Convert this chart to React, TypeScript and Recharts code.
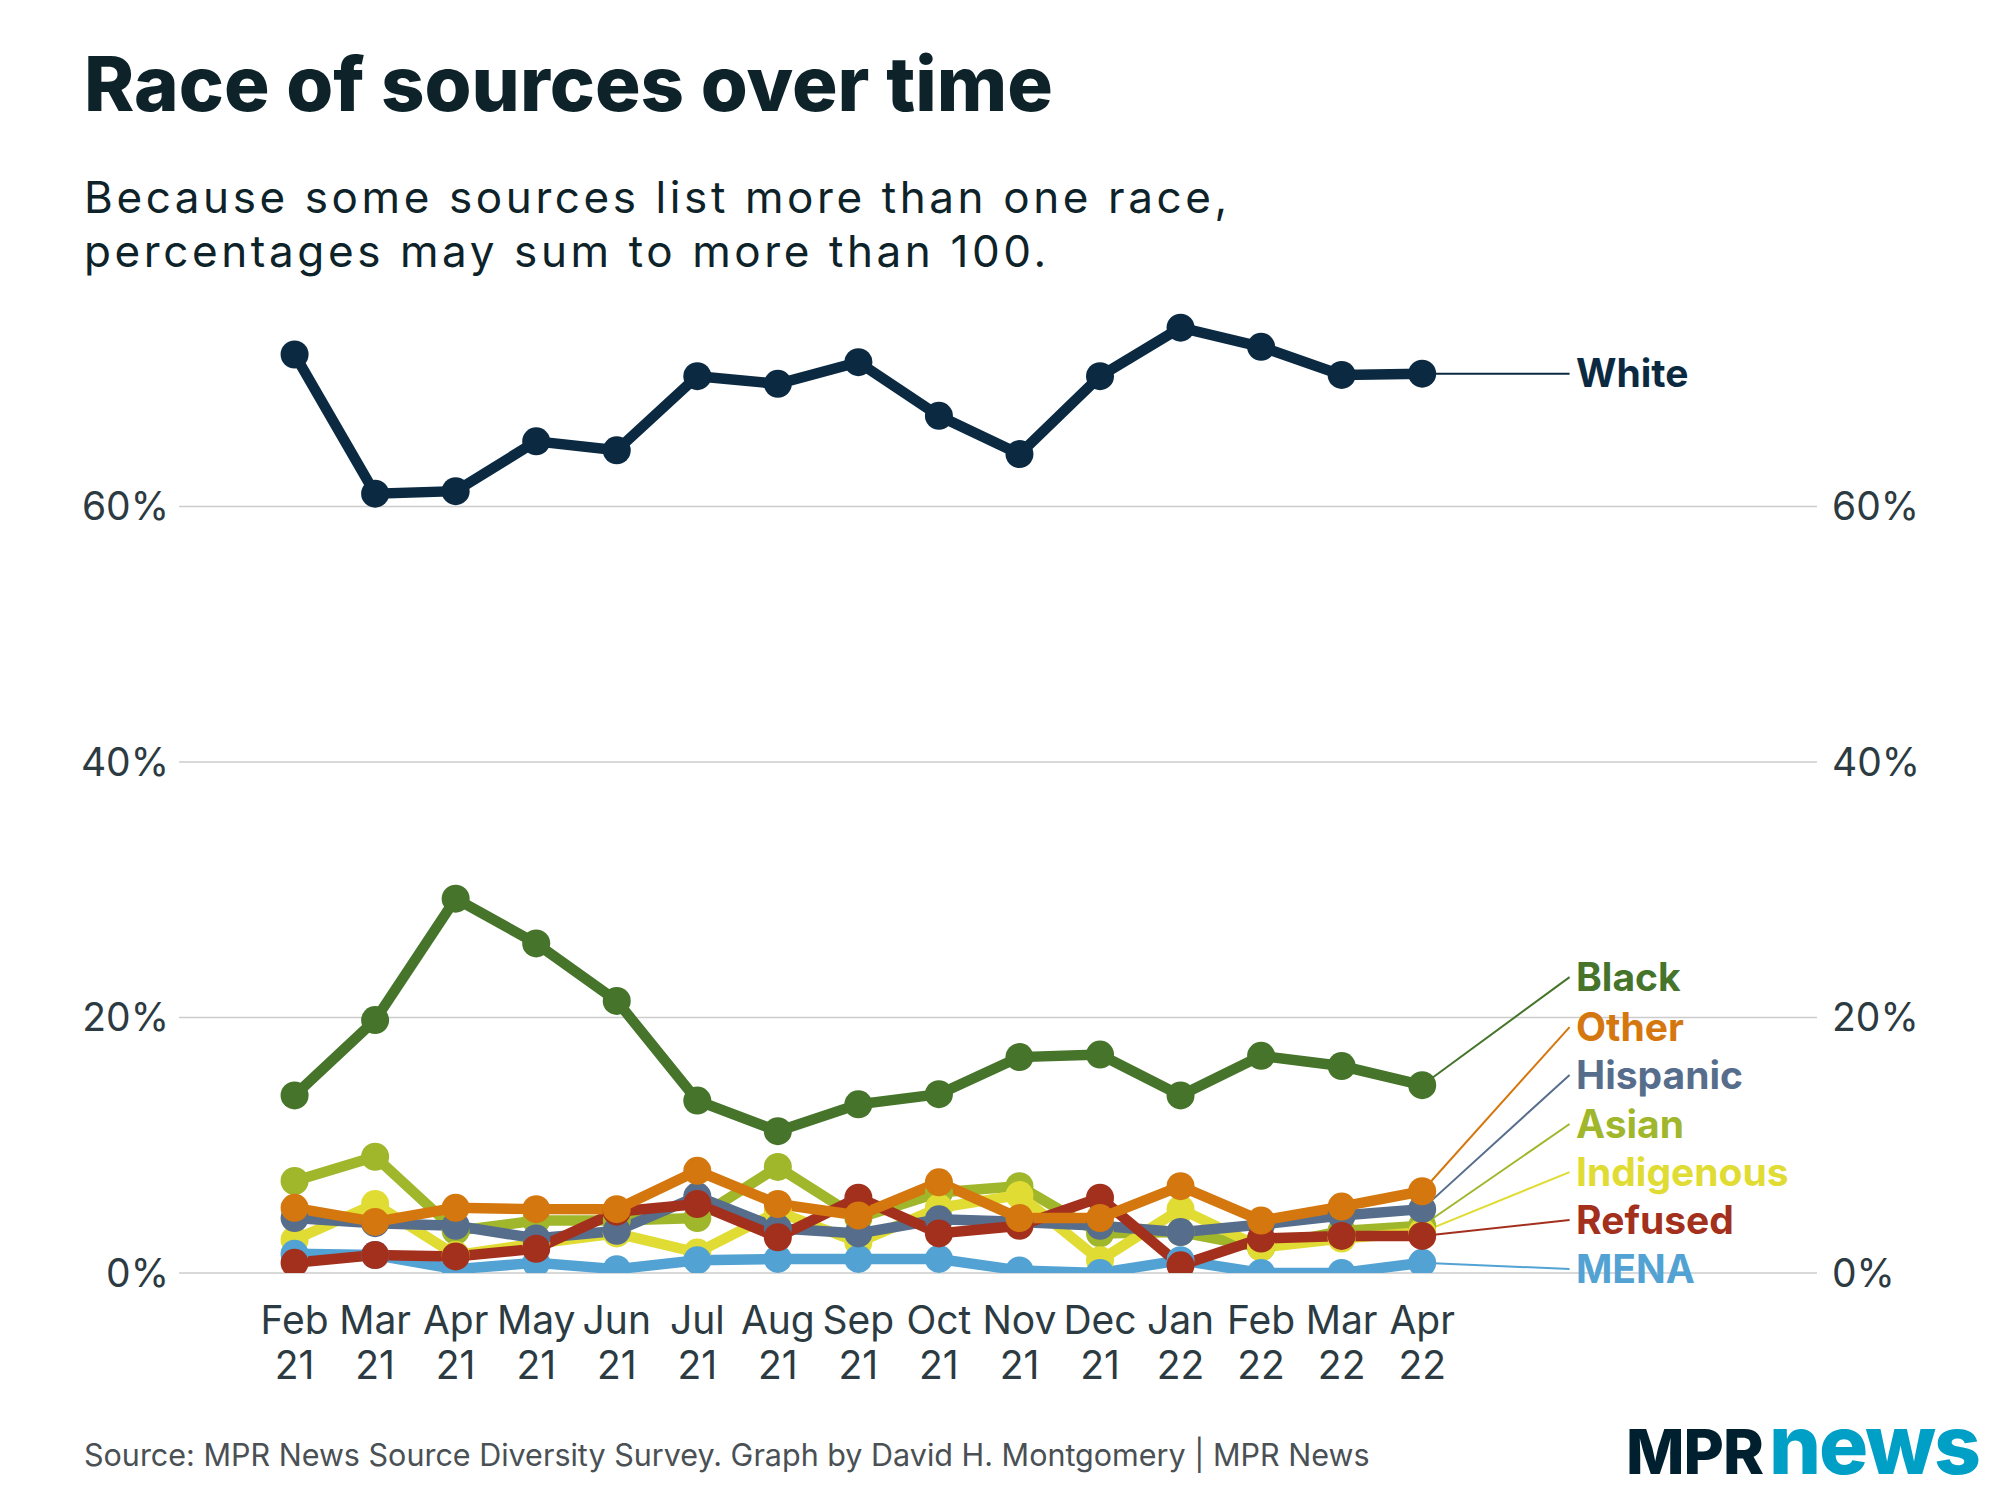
import React from "react";
import { LineChart, Line, XAxis, YAxis, CartesianGrid, ReferenceLine, ReferenceDot } from "recharts";

// months on the x axis, split in two lines
const MONTHS = ["Feb", "Mar", "Apr", "May", "Jun", "Jul", "Aug", "Sep", "Oct", "Nov", "Dec", "Jan", "Feb", "Mar", "Apr"];
const YEARS = ["21", "21", "21", "21", "21", "21", "21", "21", "21", "21", "21", "22", "22", "22", "22"];

// share of sources (%)
const WHITE = [71.9, 61.0, 61.2, 65.1, 64.4, 70.2, 69.6, 71.3, 67.1, 64.1, 70.2, 74.0, 72.5, 70.3, 70.4];
const BLACK = [13.9, 19.8, 29.3, 25.8, 21.3, 13.5, 11.1, 13.2, 14.0, 16.9, 17.1, 13.9, 17.0, 16.2, 14.7];
const OTHER = [5.1, 4.0, 5.1, 5.0, 5.0, 8.0, 5.4, 4.5, 7.1, 4.3, 4.3, 6.8, 4.1, 5.2, 6.4];
const HISPANIC = [4.3, 3.9, 3.7, 2.7, 3.3, 6.0, 3.5, 3.1, 4.2, 4.0, 3.7, 3.2, 3.8, 4.5, 5.0];
const ASIAN = [7.2, 9.1, 3.3, 4.1, 4.1, 4.3, 8.3, 4.3, 6.3, 6.8, 3.1, 3.2, 2.0, 3.3, 3.7];
const INDIGENOUS = [2.6, 5.4, 1.4, 2.3, 3.1, 1.6, 4.8, 2.4, 5.1, 6.1, 1.0, 5.0, 2.0, 2.7, 3.2];
const REFUSED = [0.8, 1.4, 1.3, 1.9, 4.8, 5.4, 2.8, 5.9, 3.1, 3.7, 5.9, 0.6, 2.7, 2.9, 2.9];
const MENA = [1.5, 1.4, 0.3, 0.8, 0.3, 1.0, 1.1, 1.1, 1.1, 0.2, 0.0, 1.0, 0.0, 0.0, 0.8];

const Y_TICKS = [0, 20, 40, 60];

const FONT = "Inter, 'Noto Sans', sans-serif";
const INK = "#0d2329";

// drawn bottom to top; labelAt = where the end label sits (in % units)
const SERIES = [
  { key: "asian", name: "Asian", values: ASIAN, color: "#a0b62b", labelAt: 11.66 },
  { key: "indigenous", name: "Indigenous", values: INDIGENOUS, color: "#e0dc33", labelAt: 7.9 },
  { key: "mena", name: "MENA", values: MENA, color: "#52a2d4", labelAt: 0.31 },
  { key: "hispanic", name: "Hispanic", values: HISPANIC, color: "#566d8c", labelAt: 15.5 },
  { key: "refused", name: "Refused", values: REFUSED, color: "#a2301d", labelAt: 4.15 },
  { key: "other", name: "Other", values: OTHER, color: "#d5770f", labelAt: 19.25 },
  { key: "black", name: "Black", values: BLACK, color: "#45742a", labelAt: 23.16 },
  { key: "white", name: "White", values: WHITE, color: "#0b2a42", labelAt: 70.4 },
];

const rows = MONTHS.map((m, i) => {
  const row: any = { i };
  SERIES.forEach((s) => (row[s.key] = s.values[i]));
  return row;
});

const LAST = MONTHS.length - 1;

const MonthTick = (props: any) => {
  const { x, y, payload } = props;
  const i = payload.value;
  return (
    <g>
      <text x={x} y={y + 61} textAnchor="middle" fill="#2c3b42" fontSize={39} fontFamily={FONT}>
        {MONTHS[i]}
      </text>
      <text x={x} y={y + 106} textAnchor="middle" fill="#2c3b42" fontSize={39} fontFamily={FONT}>
        {YEARS[i]}
      </text>
    </g>
  );
};

const tickStyle = { fill: "#2c3b42", fontSize: 39, fontFamily: FONT };

export default function App() {
  return (
    <div style={{ position: "relative", width: 2000, height: 1500, background: "#fff" }}>
      <style>{"body{margin:0}"}</style>
      <div style={{ position: "absolute", left: 0, top: 0 }}>
        <LineChart width={2000} height={1500} data={rows} margin={{ top: 251, right: 0, bottom: 0, left: 0 }}>
          <CartesianGrid vertical={false} horizontalValues={Y_TICKS} stroke="#cccccc" strokeWidth={1.5} />
          <XAxis
            type="number"
            dataKey="i"
            domain={[-1.435, 18.902]}
            allowDataOverflow
            ticks={MONTHS.map((_, i) => i)}
            tick={<MonthTick />}
            axisLine={false}
            tickLine={false}
            tickSize={0}
            tickMargin={0}
            height={227}
            interval={0}
          />
          <YAxis
            domain={[0, 80]}
            ticks={Y_TICKS}
            allowDataOverflow
            width={179}
            axisLine={false}
            tickLine={false}
            tickSize={0}
            tickMargin={10}
            tick={tickStyle}
            tickFormatter={(v) => `${v}%`}
          />
          <YAxis
            yAxisId="r"
            orientation="right"
            domain={[0, 80]}
            ticks={Y_TICKS}
            allowDataOverflow
            width={183}
            axisLine={false}
            tickLine={false}
            tickSize={0}
            tickMargin={15}
            tick={tickStyle}
            tickFormatter={(v) => `${v}%`}
          />
          {SERIES.map((s) => (
            <ReferenceLine
              key={"lead-" + s.key}
              segment={[
                { x: LAST, y: s.values[LAST] },
                { x: 15.83, y: s.labelAt },
              ]}
              stroke={s.color}
              strokeWidth={2}
            />
          ))}
          {SERIES.map((s) => (
            <Line
              key={s.key}
              type="linear"
              dataKey={s.key}
              stroke={s.color}
              strokeWidth={10.5}
              dot={{ r: 14, fill: s.color, stroke: "none" }}
              activeDot={false}
              isAnimationActive={false}
            />
          ))}
          {SERIES.map((s) => (
            <ReferenceDot
              key={"lab-" + s.key}
              x={15.91}
              y={s.labelAt}
              r={0}
              fill="none"
              stroke="none"
              label={{
                value: s.name,
                position: "right",
                offset: 0,
                fill: s.color,
                fontSize: 39,
                fontWeight: 700,
                fontFamily: FONT,
              }}
            />
          ))}
        </LineChart>
      </div>
      <svg width={2000} height={1500} style={{ position: "absolute", left: 0, top: 0, pointerEvents: "none" }}>
        <text x={84} y={111} fill={INK} fontSize={76} fontWeight={800} fontFamily={FONT}>
          Race of sources over time
        </text>
        <text x={84} y={213} fill={INK} fontSize={44} letterSpacing={3.6} fontFamily={FONT}>
          Because some sources list more than one race,
        </text>
        <text x={84} y={267} fill={INK} fontSize={44} letterSpacing={3.6} fontFamily={FONT}>
          percentages may sum to more than 100.
        </text>
        <text x={84} y={1466} fill="#4a5054" fontSize={30.5} fontFamily={FONT}>
          Source: MPR News Source Diversity Survey. Graph by David H. Montgomery | MPR News
        </text>
        <text x={1626} y={1474} fontFamily={FONT} fontWeight={800}>
          <tspan fill="#001f2f" fontSize={62} letterSpacing={-1}>MPR</tspan>
          <tspan fill="#00a0c6" fontSize={82} letterSpacing={-2} dx={6}>news</tspan>
        </text>
      </svg>
    </div>
  );
}
